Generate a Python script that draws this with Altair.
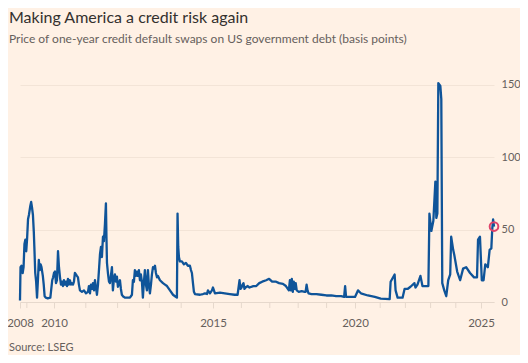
import altair as alt
import pandas as pd

title_text = "Making America a credit risk again"
subtitle_text = "Price of one-year credit default swaps on US government debt (basis points)"
source_text = "Source: LSEG"

dates = [
    "2008-10-01", "2008-10-08", "2008-10-20", "2008-11-06", "2008-11-18", "2008-11-30",
    "2008-12-12", "2008-12-24", "2009-01-05", "2009-01-17", "2009-01-29", "2009-02-16",
    "2009-02-28", "2009-03-12", "2009-03-24", "2009-04-05", "2009-04-12", "2009-04-24",
    "2009-05-06", "2009-05-18", "2009-05-30", "2009-06-11", "2009-06-23", "2009-07-05",
    "2009-07-17", "2009-08-04", "2009-08-16", "2009-08-28", "2009-09-14", "2009-10-08",
    "2009-11-13", "2009-12-08", "2009-12-20", "2010-01-01",
    "2010-01-12", "2010-01-24", "2010-02-04", "2010-02-16", "2010-02-27", "2010-03-11",
    "2010-03-22", "2010-04-02", "2010-04-14", "2010-04-25", "2010-05-07", "2010-05-18",
    "2010-05-30", "2010-06-10", "2010-06-22", "2010-07-03", "2010-07-15", "2010-07-26",
    "2010-08-07", "2010-08-18", "2010-08-29", "2010-09-10", "2010-09-21", "2010-10-03",
    "2010-10-14", "2010-10-26", "2010-11-18", "2010-12-11", "2011-01-03", "2011-01-26",
    "2011-02-06", "2011-02-18", "2011-03-01", "2011-03-13", "2011-03-24", "2011-04-05",
    "2011-04-16", "2011-04-28", "2011-05-09", "2011-05-21", "2011-06-01", "2011-06-13",
    "2011-06-24", "2011-07-05", "2011-07-17", "2011-07-28", "2011-08-09", "2011-08-20",
    "2011-08-26", "2011-09-01", "2011-09-12", "2011-09-24", "2011-10-05", "2011-10-16",
    "2011-10-28", "2011-11-08", "2011-11-20", "2011-12-01", "2011-12-13", "2011-12-24",
    "2012-01-05", "2012-01-16", "2012-01-28", "2012-02-08", "2012-02-19", "2012-03-02",
    "2012-03-25", "2012-04-17", "2012-05-22", "2012-06-14", "2012-06-25", "2012-07-07",
    "2012-07-18", "2012-07-30", "2012-08-10", "2012-08-22", "2012-09-02", "2012-09-14",
    "2012-09-25", "2012-10-07", "2012-10-18", "2012-10-30", "2012-11-10", "2012-11-22",
    "2012-12-03", "2012-12-15", "2012-12-26", "2013-01-07", "2013-01-19", "2013-01-30",
    "2013-02-11", "2013-02-22", "2013-03-06", "2013-03-17", "2013-03-29", "2013-04-09",
    "2013-05-02", "2013-06-06", "2013-06-29", "2013-07-22", "2013-08-25", "2013-09-29",
    "2013-10-22", "2013-11-13", "2013-11-20", "2013-11-28", "2013-12-06", "2013-12-17",
    "2014-01-09", "2014-02-01", "2014-02-24", "2014-03-19", "2014-04-11", "2014-04-23",
    "2014-05-04", "2014-05-16", "2014-05-27", "2014-06-08", "2014-08-05", "2014-09-08",
    "2014-10-01", "2014-10-24", "2014-11-04", "2014-11-27", "2014-12-20", "2015-01-01",
    "2015-01-26", "2015-03-31", "2015-06-02", "2015-08-04", "2015-10-06", "2015-11-13",
    "2015-12-08", "2015-12-20", "2016-01-03", "2016-01-16", "2016-01-28", "2016-02-10",
    "2016-02-23", "2016-03-19", "2016-04-14", "2016-06-03", "2016-07-11", "2016-08-18",
    "2016-09-25", "2016-11-15", "2016-12-23", "2017-01-31", "2017-03-23", "2017-04-30",
    "2017-06-19", "2017-07-27", "2017-09-03", "2017-09-16", "2017-09-28", "2017-10-11",
    "2017-10-24", "2017-11-05", "2017-11-18", "2017-11-30", "2017-12-13", "2018-01-08",
    "2018-02-15", "2018-03-25", "2018-04-06", "2018-04-19", "2018-05-01", "2018-05-14",
    "2018-06-21", "2018-08-23", "2018-10-26", "2018-12-29", "2019-03-02", "2019-05-04",
    "2019-07-07", "2019-08-14", "2019-08-27", "2019-09-08", "2019-10-04", "2019-12-06",
    "2020-01-01", "2020-02-13", "2020-03-27", "2020-07-06", "2020-10-15", "2021-01-09",
    "2021-05-18", "2021-06-01", "2021-07-29", "2021-08-12", "2021-09-10", "2021-11-21",
    "2021-12-20", "2022-02-01", "2022-03-16", "2022-05-12", "2022-05-27", "2022-06-25",
    "2022-08-07", "2022-09-05", "2022-10-18", "2022-11-30", "2022-12-15", "2023-01-12",
    "2023-02-10", "2023-03-11", "2023-03-25", "2023-04-09", "2023-04-23", "2023-05-22",
    "2023-06-05", "2023-06-19", "2023-07-18", "2023-08-16", "2023-09-13", "2023-10-12",
    "2023-10-26", "2023-11-24", "2023-12-08", "2024-01-21", "2024-03-04", "2024-04-16",
    "2024-05-30", "2024-07-26", "2024-09-22", "2024-11-04", "2024-11-19", "2024-12-17",
    "2025-01-10", "2025-01-30", "2025-02-18", "2025-03-19", "2025-04-08", "2025-04-27",
    "2025-05-07", "2025-05-17", "2025-05-27",
]

cds_bp = [
    1, 24, 25, 20, 24, 40,
    43, 35, 44, 57, 60, 66,
    69, 65, 60, 48, 38, 20,
    14, 3, 15, 29, 22, 26,
    24, 18, 12, 4, 3, 2.5,
    3, 15, 17, 20,
    21, 13, 15, 35, 24, 17,
    12, 14, 11, 15, 12, 14,
    11, 16, 12, 15, 12, 13,
    12, 14, 20, 19, 18, 17,
    12, 8, 7, 8, 6, 7,
    11, 6, 12, 9, 13, 8,
    15, 10, 5, 12, 22, 33,
    38, 31, 45, 42, 54, 68,
    45, 27, 20, 14, 13, 18,
    24, 8, 16, 19, 14, 17.5,
    10.5, 13, 15, 9, 5, 4,
    3, 3, 3, 5, 15, 14,
    22, 18, 21, 18, 22, 15,
    19, 14, 3, 14, 22, 12,
    8, 22, 12, 6, 12, 19,
    24, 23, 25, 20, 17, 18,
    15, 13, 12, 11, 8, 5,
    4, 3, 61, 38, 31, 28,
    28, 26, 27, 25, 25, 22,
    20, 13, 7, 5.5, 5, 5.5,
    6, 5.5, 8, 6, 8, 10,
    6, 6.5, 6, 5.5, 5, 5,
    15, 9, 10, 12, 13, 9,
    10, 11, 10, 11, 11, 13,
    14, 15, 16, 14, 14, 13,
    12.5, 11, 8, 15, 8, 16,
    7, 14, 9, 13, 8, 7,
    7.5, 7, 7, 12, 8, 6,
    5.5, 5.5, 5, 4.5, 4.5, 4,
    4, 3.5, 11, 3.5, 3.5, 3.5,
    3.5, 8, 6, 4.5, 3.5, 2.3,
    2, 14, 19, 8, 3, 3,
    9, 9, 10.5, 13, 10, 12,
    18, 11, 11, 11, 61, 49,
    56, 83, 58, 61, 151, 149,
    140, 13, 8, 4, 15, 19,
    45, 36, 33, 21, 15, 23,
    24, 20, 17, 17, 43, 45,
    15, 15, 26, 24, 36, 37,
    50, 57, 52,
]

labelled_years = [2010, 2015, 2020, 2025]
minor_tick_years = [2009, 2011, 2012, 2013, 2014, 2016, 2017, 2018, 2019,
                    2021, 2022, 2023, 2024]
first_label = "2008"
y_ticks = [0, 50, 100, 150]


def decimal_year(ts):
    start = pd.Timestamp(year=ts.year, month=1, day=1)
    end = pd.Timestamp(year=ts.year + 1, month=1, day=1)
    return ts.year + (ts - start) / (end - start)


df = pd.DataFrame({"date": pd.to_datetime(dates), "value": cds_bp})
df["t"] = df["date"].apply(decimal_year)
last = df.tail(1)

t_start = float(df["t"].iloc[0])
t_end = float(df["t"].iloc[-1])
label_values = [t_start] + [float(y) for y in labelled_years]

W, H = 474, 232
bg = "#FFF1E5"
blue = "#0F5499"
grey = "#66605C"
tick_col = "#E6D8CC"
FONT = "Lato"

# piecewise-linear time axis (the source chart spaces its years unevenly)
x_scale = alt.Scale(
    domain=[t_start, 2010, 2015, 2020, 2025, t_end],
    range=[0, 34, 193, 335, 461, W],
    nice=False,
    zero=False,
)

label_expr = f"datum.value < 2009 ? '{first_label}' : format(datum.value, 'd')"

x_enc = alt.X(
    "t:Q",
    scale=x_scale,
    axis=alt.Axis(
        title=None,
        values=label_values,
        labelExpr=label_expr,
        grid=False,
        domainColor=tick_col,
        tickColor=tick_col,
        tickSize=6,
        labelPadding=9,
        labelFont=FONT,
        labelFontSize=11.5,
        labelColor=grey,
        labelFlush=False,
        labelOverlap=False,
    ),
)

y_enc = alt.Y(
    "value:Q",
    scale=alt.Scale(domain=[0, 160], nice=False),
    axis=alt.Axis(
        title=None,
        orient="right",
        values=y_ticks,
        grid=True,
        gridColor="#F3E4D7",
        domain=False,
        ticks=False,
        labelPadding=7,
        labelFont=FONT,
        labelFontSize=11,
        labelColor=grey,
    ),
)

line = alt.Chart(df).mark_line(color=blue, strokeWidth=2.3, strokeJoin="round").encode(
    x=x_enc, y=y_enc
)

minor_ticks = alt.Chart(pd.DataFrame({"t": minor_tick_years})).mark_rule(
    color=tick_col, strokeWidth=1
).encode(x="t:Q", y=alt.value(H), y2=alt.value(H + 6))

dot = alt.Chart(last).mark_point(
    shape="circle", filled=False, color="#E0446A", strokeWidth=2, size=75, opacity=1
).encode(x="t:Q", y="value:Q")

src = alt.Chart(pd.DataFrame({"s": [source_text]})).mark_text(
    align="left", baseline="middle", font=FONT, fontSize=11, color=grey
).encode(x=alt.value(-11), y=alt.value(278), text="s:N")

chart = alt.layer(line, minor_ticks, dot, src).properties(
    width=W,
    height=H,
    background=bg,
    autosize="none",
    padding={"left": 12, "top": 62, "right": 26, "bottom": 53},
    title=alt.TitleParams(
        text=title_text,
        subtitle=subtitle_text,
        anchor="start",
        frame="group",
        dx=-11,
        offset=25,
        font=FONT,
        fontSize=16,
        fontWeight="normal",
        color="#33302E",
        subtitleFont=FONT,
        subtitleFontSize=12,
        subtitleColor=grey,
        subtitlePadding=8,
    ),
).configure_view(stroke=None)

chart.save("out.html", embed_options={"renderer": "svg", "actions": False})
